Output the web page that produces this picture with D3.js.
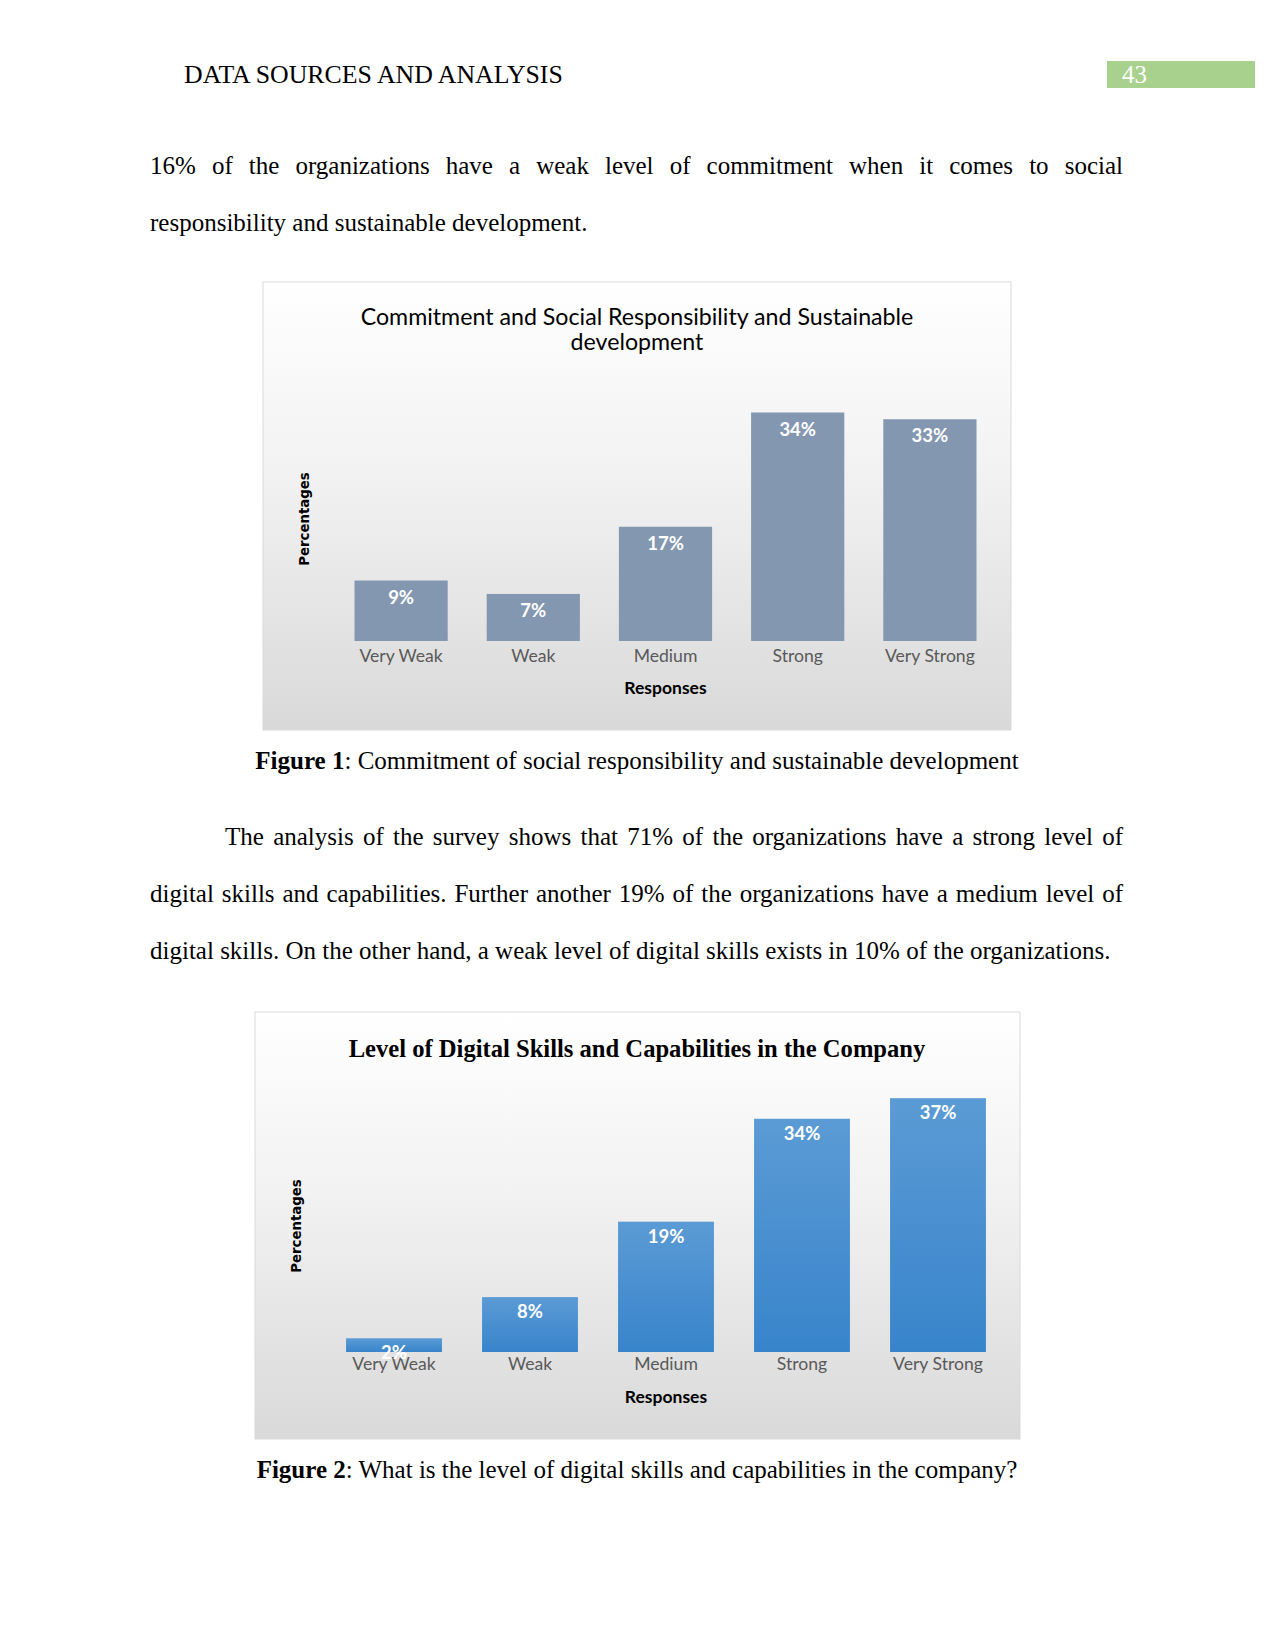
<!DOCTYPE html>
<html><head><meta charset="utf-8">
<script src="https://cdn.jsdelivr.net/npm/d3@7"></script>
<style>
html,body{margin:0;padding:0;background:#fff;}
svg{display:block;}
</style></head>
<body>
<svg id="page" width="1275" height="1650"></svg>
<script>
// ---- data ----
const categories = ["Very Weak", "Weak", "Medium", "Strong", "Very Strong"];
const commitmentValues = [9, 7, 17, 34, 33];
const digitalValues = [2, 8, 19, 34, 37];
const chart1Title = ["Commitment and Social Responsibility and Sustainable", "development"];
const chart2Title = "Level of Digital Skills and Capabilities in the Company";
const headerText = "DATA SOURCES AND ANALYSIS";
const pageNumber = "43";
const para1 = [
  {text: "16% of the organizations have a weak level of commitment when it comes to social", justify: true, indent: false},
  {text: "responsibility and sustainable development.", justify: false, indent: false}
];
const para2 = [
  {text: "The analysis of the survey shows that 71% of the organizations have a strong level of", justify: true, indent: true},
  {text: "digital skills and capabilities. Further another 19% of the organizations have a medium level of", justify: true, indent: false},
  {text: "digital skills. On the other hand, a weak level of digital skills exists in 10% of the organizations.", justify: false, indent: false}
];
const caption1 = ["Figure 1", ": Commitment of social responsibility and sustainable development"];
const caption2 = ["Figure 2", ": What is the level of digital skills and capabilities in the company?"];

const svg = d3.select("#page");
const SERIF = "'Liberation Serif','Times New Roman',serif";
const SANS = "Lato, 'Open Sans', sans-serif";
const defs = svg.append("defs");

// gradients
const bg = defs.append("linearGradient").attr("id", "chartBg").attr("x1", 0).attr("y1", 0).attr("x2", 0).attr("y2", 1);
bg.append("stop").attr("offset", 0).attr("stop-color", "#ffffff");
bg.append("stop").attr("offset", 0.45).attr("stop-color", "#f1f1f1");
bg.append("stop").attr("offset", 1).attr("stop-color", "#d9d9d9");
const blue = defs.append("linearGradient").attr("id", "blueBar").attr("x1", 0).attr("y1", 0).attr("x2", 0).attr("y2", 1);
blue.append("stop").attr("offset", 0).attr("stop-color", "#5b9bd5");
blue.append("stop").attr("offset", 1).attr("stop-color", "#3884cb");

// ---- header ----
svg.append("text").attr("x", 184).attr("y", 83).attr("font-family", SERIF).attr("font-size", 25.8)
  .attr("fill", "#000").text(headerText);
svg.append("rect").attr("x", 1107).attr("y", 61).attr("width", 148).attr("height", 27).attr("fill", "#a9d18e");
svg.append("text").attr("x", 1122).attr("y", 83).attr("font-family", SERIF).attr("font-size", 25)
  .attr("fill", "#fff").text(pageNumber);

// ---- paragraphs ----
function drawLine(line, y, left, right) {
  const x0 = line.indent ? left + 75 : left;
  if (!line.justify) {
    svg.append("text").attr("x", x0).attr("y", y).attr("font-family", SERIF).attr("font-size", 25)
      .attr("fill", "#000").text(line.text);
    return;
  }
  const words = line.text.split(" ");
  const nodes = words.map(w => svg.append("text").attr("y", y).attr("font-family", SERIF)
    .attr("font-size", 25).attr("fill", "#000").text(w));
  const widths = nodes.map(n => n.node().getComputedTextLength());
  const total = d3.sum(widths);
  const gap = (right - x0 - total) / (words.length - 1);
  let x = x0;
  nodes.forEach((n, i) => { n.attr("x", x); x += widths[i] + gap; });
}
para1.forEach((l, i) => drawLine(l, 174 + i * 56.5, 150, 1123));
para2.forEach((l, i) => drawLine(l, 845 + i * 57, 150, 1123));

// ---- captions ----
function caption(parts, y) {
  const t = svg.append("text").attr("x", 637).attr("y", y).attr("text-anchor", "middle")
    .attr("font-family", SERIF).attr("font-size", 25).attr("fill", "#000");
  t.append("tspan").attr("font-weight", "bold").text(parts[0]);
  t.append("tspan").text(parts[1]);
}
caption(caption1, 769);
caption(caption2, 1478);

// ---- chart drawing ----
function drawChart(cfg) {
  const g = svg.append("g");
  g.append("rect").attr("x", cfg.box[0]).attr("y", cfg.box[1]).attr("width", cfg.box[2]).attr("height", cfg.box[3])
    .attr("fill", "url(#chartBg)").attr("stroke", "#d9d9d9").attr("stroke-width", 1);

  const x = d3.scaleBand().domain(categories).range(cfg.xRange).paddingInner(0.295).paddingOuter(0.1475);
  const y = d3.scaleLinear().domain([0, 40]).range([cfg.base, cfg.base - 40 * cfg.perUnit]);

  // title
  cfg.drawTitle(g);

  // bars
  g.selectAll("rect.bar").data(cfg.values).join("rect").attr("class", "bar")
    .attr("x", (d, i) => x(categories[i])).attr("width", x.bandwidth())
    .attr("y", d => y(d)).attr("height", d => y(0) - y(d))
    .attr("fill", cfg.barFill);

  // category axis labels
  const axis = d3.axisBottom(x).tickSize(0).tickPadding(0);
  const ag = g.append("g").attr("transform", `translate(0,${cfg.catY})`).call(axis);
  ag.select(".domain").remove();
  ag.selectAll("text").attr("font-family", SANS).attr("font-size", 17.6).attr("fill", "#595959")
    .attr("dy", 0);

  // value labels
  g.selectAll("text.val").data(cfg.values).join("text").attr("class", "val")
    .attr("x", (d, i) => x(categories[i]) + x.bandwidth() / 2)
    .attr("y", d => y(d) + cfg.labelOffset)
    .attr("text-anchor", "middle").attr("font-family", SANS).attr("font-weight", "bold")
    .attr("font-size", 18.5).attr("fill", "#fff").text(d => d + "%");

  // axis titles
  g.append("text").attr("x", (cfg.xRange[0] + cfg.xRange[1]) / 2).attr("y", cfg.respY)
    .attr("text-anchor", "middle").attr("font-family", SANS).attr("font-weight", "bold")
    .attr("font-size", 17.5).attr("fill", "#000").text("Responses");
  g.append("text").attr("transform", `translate(${cfg.pctPos[0]},${cfg.pctPos[1]}) rotate(-90)`)
    .attr("text-anchor", "middle").attr("dy", "0.35em").attr("font-family", "'DejaVu Sans', Verdana, sans-serif")
    .attr("font-weight", "bold").attr("font-size", 13.3).attr("fill", "#000").text("Percentages");
}

drawChart({
  box: [263, 282, 748, 448],
  xRange: [335, 996],
  base: 641,
  perUnit: 6.72,
  values: commitmentValues,
  barFill: "#8497b0",
  catY: 662,
  labelOffset: 23,
  respY: 694,
  pctPos: [304, 519],
  drawTitle: g => {
    chart1Title.forEach((t, i) => g.append("text").attr("x", 637).attr("y", 325 + i * 25)
      .attr("text-anchor", "middle").attr("font-family", SANS).attr("font-size", 23.2)
      .attr("fill", "#000").text(t));
  }
});

drawChart({
  box: [255, 1012, 765, 427],
  xRange: [326, 1006],
  base: 1352,
  perUnit: 6.86,
  values: digitalValues,
  barFill: "url(#blueBar)",
  catY: 1370,
  labelOffset: 21,
  respY: 1403,
  pctPos: [296, 1226],
  drawTitle: g => {
    g.append("text").attr("x", 637).attr("y", 1057).attr("text-anchor", "middle")
      .attr("font-family", SERIF).attr("font-weight", "bold").attr("font-size", 24.6)
      .attr("fill", "#000").text(chart2Title);
  }
});
</script>
</body></html>
